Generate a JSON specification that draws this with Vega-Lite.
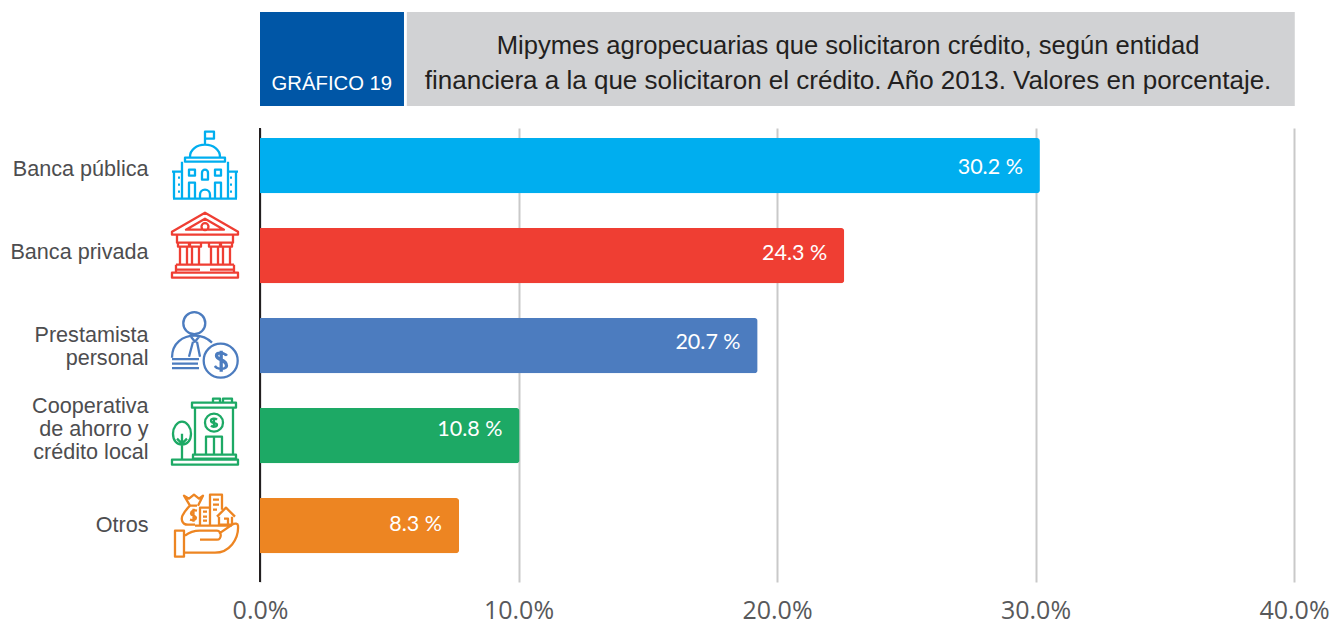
{
"$schema":"https://vega.github.io/schema/vega-lite/v6.json",
"width":1034,"height":454,
"autosize":{"type":"none"},
"padding":{"left":260,"top":128,"right":38,"bottom":39},
"background":"#ffffff",
"view":{"stroke":null},
"datasets":{
"entidades":[
{"entidad":"Banca pública","longitud":30.17,"etiqueta":"30.2 %"},
{"entidad":"Banca privada","longitud":22.6,"etiqueta":"24.3 %"},
{"entidad":"Prestamista personal","longitud":19.25,"etiqueta":"20.7 %"},
{"entidad":"Cooperativa de ahorro y crédito local","longitud":10.04,"etiqueta":"10.8 %"},
{"entidad":"Otros","longitud":7.7,"etiqueta":"8.3 %"}
]},
"resolve":{"scale":{"y":"independent"},"axis":{"y":"independent"}},
"layer":[
{"data":{"values":[{"tipo":"eje"}]},"mark":{"type":"rule","color":"#231f20","strokeWidth":2},
 "encoding":{"x":{"datum":0,"type":"quantitative","scale":{"domain":[0,40],"nice":false,"zero":false},
  "axis":{"values":[0,10,20,30,40],"labelExpr":"format(datum.value,'.1f')+'%'","title":null,"domain":false,"ticks":false,"grid":true,"gridColor":"#c9c9c9","gridWidth":2,"labelFont":"Open Sans","labelFontSize":25,"labelColor":"#58595b","labelPadding":16,"labelFlush":false,"labelBound":false,"labelOverlap":false}}}},
{"data":{"name":"entidades"},"mark":{"type":"bar","cornerRadiusEnd":3},
 "encoding":{
 "y":{"field":"entidad","type":"nominal","sort":null,"scale":{"domain":["Banca pública","Banca privada","Prestamista personal","Cooperativa de ahorro y crédito local","Otros"],"paddingInner":0.385,"paddingOuter":0.2147,"align":0.2587},
  "axis":{"title":null,"domain":false,"ticks":false,"grid":false,"labelPadding":112,"labelFont":"Liberation Sans","labelFontSize":21.6,"labelColor":"#4d4d4f","labelLimit":0,"labelLineHeight":23,
  "labelExpr":"datum.value=='Prestamista personal'?['Prestamista','personal']:datum.value=='Cooperativa de ahorro y crédito local'?['Cooperativa','de ahorro y','crédito local']:datum.value",
  "labelOffset":{"expr":"datum.value=='Banca pública'?4:datum.value=='Banca privada'?-3:datum.value=='Prestamista personal'?-10:datum.value=='Otros'?0:-29"}}},
 "x":{"field":"longitud","type":"quantitative"},
 "color":{"field":"entidad","type":"nominal","legend":null,"scale":{"domain":["Banca pública","Banca privada","Prestamista personal","Cooperativa de ahorro y crédito local","Otros"],"range":["#00aeef","#ef3e33","#4c7cbf","#1da965","#ed8522"]}}
 }},
{"data":{"name":"entidades"},"mark":{"type":"text","align":"right","baseline":"middle","dx":-17,"dy":{"expr":"datum.entidad=='Banca pública'?2:datum.entidad=='Banca privada'?-2:datum.entidad=='Prestamista personal'?-2.5:datum.entidad=='Otros'?-1:-6"},"font":"Lato","fontWeight":400,"fontSize":21.5,"color":"#ffffff"},
 "encoding":{
 "y":{"field":"entidad","type":"nominal","sort":null,"axis":null,"scale":{"type":"band","domain":["Banca pública","Banca privada","Prestamista personal","Cooperativa de ahorro y crédito local","Otros"],"paddingInner":0.385,"paddingOuter":0.2147,"align":0.2587}},
 "x":{"field":"longitud","type":"quantitative"},
 "text":{"field":"etiqueta"}
 }},
{"data":{"name":"entidades"},"mark":{"type":"point","filled":false,"strokeWidth":2.3,"opacity":1,"size":4,"strokeJoin":"round"},
 "encoding":{
 "y":{"field":"entidad","type":"nominal","sort":null,"axis":null,"scale":{"type":"band","domain":["Banca pública","Banca privada","Prestamista personal","Cooperativa de ahorro y crédito local","Otros"],"paddingInner":0.385,"paddingOuter":0.2147,"align":0.2587}},
 "x":{"datum":-2.128,"type":"quantitative"},
 "color":{"field":"entidad","type":"nominal","legend":null},
 "shape":{"field":"entidad","type":"nominal","legend":null,"scale":{"domain":["Banca pública","Banca privada","Prestamista personal","Cooperativa de ahorro y crédito local","Otros"],"range":[
 "M0,-22V-34H9V-27H0M-15,-9A15,12 0 0 1 15,-9M-20,-8H20V-4H-20ZM-23,-4V33M23,-4V33M-33,6H-23M23,6H33M-31,6V32M31,6V32M-32,33H32M-16,4H-10V10H-16ZM10,4H16V10H10ZM-3,14V7A3,3 0 0 1 3,7V14ZM-16,33V17H-10V33M10,33V17H16V33M-5,33V29A5,5 0 0 1 5,29V33M-27,12H-25M-27,19H-25M-27,26H-25M25,12H27M25,19H27M25,26H27",
 "M0,-43L33,-24V-21H-33V-24ZM0,-37L-19,-26H19ZM-3.5,-29A3.5,3.5 0 1 1 3.5,-29A3.5,3.5 0 1 1 -3.5,-29M-28,-21V-13H28V-21M-27,-13V-9H-16V-13M-25,-9V9M-18,-9V9M-15,-13V-9H-4V-13M-13,-9V9M-6,-9V9M4,-13V-9H15V-13M6,-9V9M13,-9V9M16,-13V-9H27V-13M18,-9V9M25,-9V9M-29,9H29M-29,9V14H-5M5,14H29V9M-29,14V17M29,14V17M-33,17H33V22H-33Z",
 "M-21.7,-22.5A11,11 0 1 1 0.3,-22.5A11,11 0 1 1 -21.7,-22.5M-33,12C-33,-3 -22,-10 -10,-10C-3,-10 3,-7 7,-3M-14,-9L-10,-4L-6,-9M-12,-4L-16,11M-8,-4L-5,11M-33,13.5H-6M-33,18H-7M-33,22.5H-6M-1.3,15A17,17 0 1 1 32.7,15A17,17 0 1 1 -1.3,15M21,10C19,6 11,6 11,10C11,15 21,14 21,20C21,24 12,24 10,20M22,10C20,7 12,7 12,10C12,14 22,13 22,20C22,23 13,25 10,21M15.7,5V26M16.7,5V26",
 "M-33,24H33V29H-33ZM-10,19V-28M28,19V-28M-13,-33H31V-28H-13ZM8,-33V-37H15V-33M18,-33V-37H27V-33M0,-13A9,9 0 1 1 18,-13A9,9 0 1 1 0,-13M9,-18V-8M12,-16C10,-18 6,-17 6,-15C6,-12 12,-13 12,-11C12,-9 8,-8 6,-10M1,19V1H17V19M9,1V19M-12,19H31V23H-12ZM-23,24V-2M-23,8L-28,3M-23,8L-18,3M-23,-14C-28,-14 -32,-8 -32,-2C-32,5 -28,9 -23,9C-18,9 -14,5 -14,-2C-14,-8 -18,-14 -23,-14Z",
 "M-30,5H-21V31H-30ZM-20,10C-15,6 -10,5 -5,5H12C17,5 17,14 12,14H-5M-20,27H10C24,27 34,14 33,0C33,-2 30,-3 27,-1L14,8M-10,-1H-17C-24,-1 -24,-8 -22,-11C-20,-15 -17,-18 -15,-20H-8M-15,-20L-21,-30L-16,-27L-11,-31L-6,-27L-2,-30L-7,-20M-8,-15C-12,-16 -14,-14 -14,-12C-14,-10 -9,-10 -9,-8C-9,-6 -12,-5 -15,-6M-11.5,-17V-4M-5,-1V-18H5M5,-1V-31H17V-16M12,-9L21,-18L30,-9M14,-9V-1H27V-9M-10,0H27M-2,-14H2M-2,-9H2M-2,-5H2M8,-26H14M8,-21H14M8,-16H12M19,-7H23V-1"
 ]}}
 }},
{"data":{"values":[{"panel":"titulo"}]},"mark":{"type":"bar","color":"#0056a6"},
 "encoding":{"y":{"field":"panel","type":"nominal","axis":null,"scale":{"domain":["titulo"],"range":[-116,-22],"paddingInner":0,"paddingOuter":0}},
 "x":{"datum":0,"type":"quantitative"},"x2":{"datum":5.57}}},
{"data":{"values":[{"panel":"titulo"}]},"mark":{"type":"bar","color":"#d1d2d4"},
 "encoding":{"y":{"field":"panel","type":"nominal","axis":null,"scale":{"domain":["titulo"],"range":[-116,-22],"paddingInner":0,"paddingOuter":0}},
 "x":{"datum":5.68,"type":"quantitative"},"x2":{"datum":40.03}}},
{"data":{"values":[{"t":"GRÁFICO 19"}]},"mark":{"type":"text","font":"Liberation Sans","fontSize":20.3,"color":"#ffffff","align":"center","baseline":"middle"},
 "encoding":{"y":{"field":"t","type":"nominal","axis":null,"scale":{"range":[-54,-34]}},
 "x":{"datum":2.78,"type":"quantitative"},"text":{"field":"t"}}},
{"data":{"values":[{"t":"Mipymes agropecuarias que solicitaron crédito, según entidad"},{"t":"financiera a la que solicitaron el crédito. Año 2013. Valores en porcentaje."}]},"mark":{"type":"text","font":"Liberation Sans","fontSize":{"expr":"datum.t[0]=='M'?25.6:26"},"color":"#231f20","align":"center","baseline":"middle"},
 "encoding":{"y":{"field":"t","type":"nominal","sort":null,"axis":null,"scale":{"range":[-99.5,-29.5]}},
 "x":{"datum":22.75,"type":"quantitative"},"text":{"field":"t"}}}
]
}
